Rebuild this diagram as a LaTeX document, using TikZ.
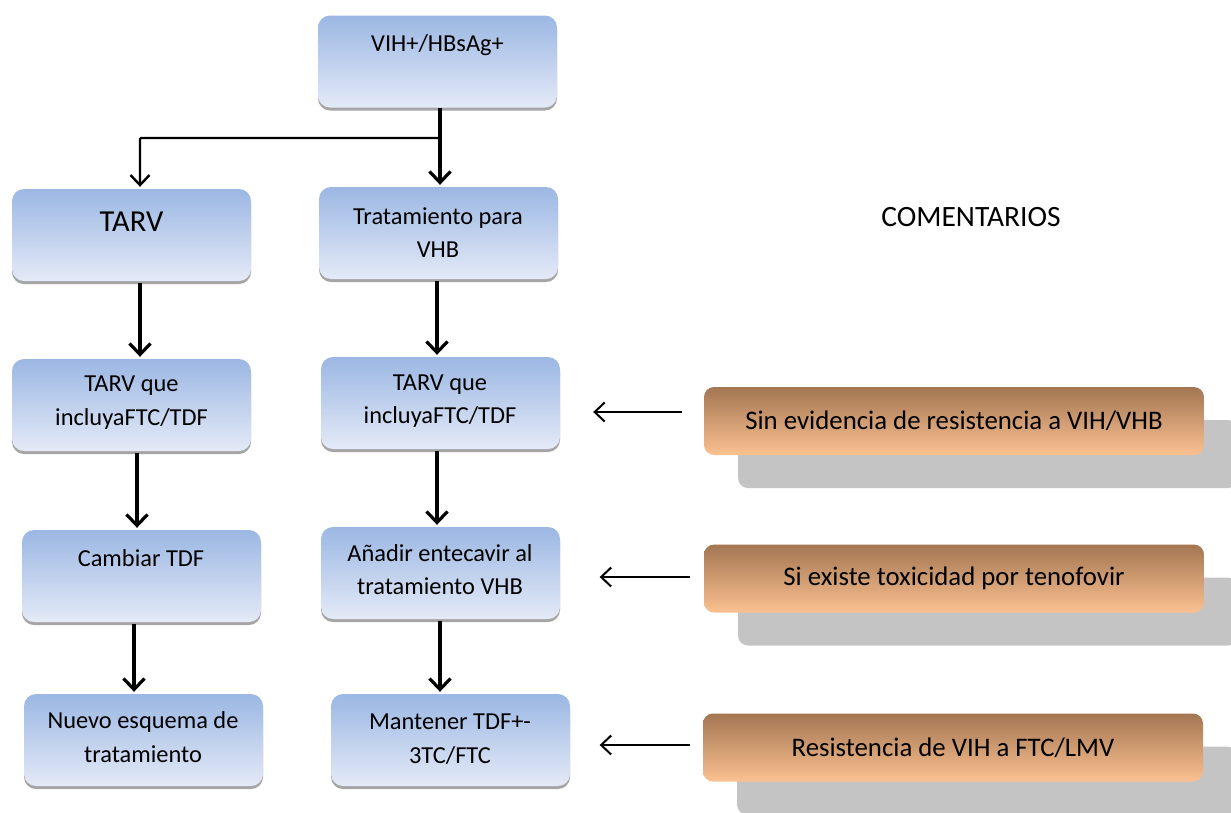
\documentclass[tikz,border=0pt]{standalone}
\usepackage{fontspec}
\setmainfont{Carlito}
\usetikzlibrary{arrows.meta,shadows,patterns}
\definecolor{blueTop}{RGB}{155,183,227}
\definecolor{blueBot}{RGB}{228,234,247}
\definecolor{orTop}{RGB}{163,118,82}
\definecolor{orBot}{RGB}{251,193,145}
\definecolor{shGray}{RGB}{165,165,165}
\definecolor{shLight}{RGB}{196,196,196}
\begin{document}
\begin{tikzpicture}[x=1pt,y=-1pt,
  bluebox/.style={rounded corners=12pt, top color=blueTop, bottom color=blueBot,
    minimum width=239pt, minimum height=92pt, inner sep=0pt, draw=none,
    drop shadow={shadow xshift=0pt, shadow yshift=-3pt, fill=shGray, opacity=1}},
  orbox/.style={rounded corners=10pt, top color=orTop, bottom color=orBot,
    minimum width=500pt, minimum height=68pt, inner sep=0pt, draw=none,
    font=\fontsize{26.8}{30}\selectfont,
    drop shadow={shadow xshift=34pt, shadow yshift=-33pt, fill=shLight, opacity=1}},
  txt/.style={align=center, inner sep=0pt, font=\fontsize{24.4}{33.5}\selectfont},
  bigtxt/.style={align=center, inner sep=0pt, font=\fontsize{30.5}{34}\selectfont},
  varrow/.style={line width=3.2pt, -{Straight Barb[length=11pt,width=21pt,line width=3.2pt]}},
  brarrow/.style={line width=2.4pt, -{Straight Barb[length=10pt,width=19pt,line width=2.4pt]}},
  harrow/.style={line width=2pt, -{Straight Barb[length=10pt,width=19pt,line width=2pt]}}
]
\useasboundingbox (0,0) rectangle (1231,812);

% blue boxes
\node[bluebox] (b1) at (437.5,61.5) {};
\node[bluebox] (b2) at (131.5,235) {};
\node[bluebox] (b3) at (438.5,233) {};
\node[bluebox] (b4) at (131.5,405) {};
\node[bluebox] (b5) at (440.5,403) {};
\node[bluebox] (b6) at (141.5,576) {};
\node[bluebox] (b7) at (440.5,573) {};
\node[bluebox] (b8) at (143.5,740) {};
\node[bluebox] (b9) at (450.5,740) {};

% texts
\node[txt] (t1) at (437.5,45) {VIH+/HBsAg+};
\node[bigtxt] (t2) at (131.5,222) {TARV};
\node[txt] (t3) at (438,232.5) {Tratamiento para\\VHB};
\node[txt] (t4) at (131.5,402.5) {TARV que\\incluyaFTC/TDF};
\node[txt] (t5) at (440,401) {TARV que\\incluyaFTC/TDF};
\node[txt] (t6) at (141,558) {Cambiar TDF};
\node[txt] (t7) at (440,569.5) {Añadir entecavir al\\tratamiento VHB};
\node[txt] (t8) at (143,737) {Nuevo esquema de\\tratamiento};
\node[txt] (t9) at (450,739) {Mantener TDF+-\\3TC/FTC};

% comments
\node[font=\fontsize{29.5}{33}\selectfont, inner sep=0pt] (com) at (971,217) {COMENTARIOS};
\node[orbox] (o1) at (954,421) {Sin evidencia de resistencia a VIH/VHB};
\node[orbox] (o2) at (954,578.5) {Si existe toxicidad por tenofovir};
\node[orbox] (o3) at (953,747.5) {Resistencia de VIH a FTC/LMV};

% top branching
\coordinate (br) at (440,138);
\draw[line width=3.2pt] ([xshift=2.5pt]b1.south) -- (br);
\draw[varrow] (br) -- ([xshift=1.5pt,yshift=2pt]b3.north);
\draw[brarrow, rounded corners=1pt] (br) -| ([xshift=8.5pt,yshift=2pt]b2.north);

% vertical arrows
\draw[varrow] ([xshift=8.5pt,yshift=-2pt]b2.south) -- ([xshift=8.5pt,yshift=2pt]b4.north);
\draw[varrow] ([xshift=-1.5pt,yshift=-2pt]b3.south) -- ([xshift=-3.5pt,yshift=2pt]b5.north);
\draw[varrow] ([xshift=5.5pt,yshift=-2pt]b4.south) -- ([xshift=-4.5pt,yshift=2pt]b6.north);
\draw[varrow] ([xshift=-3.5pt,yshift=-2pt]b5.south) -- ([xshift=-3.5pt,yshift=2pt]b7.north);
\draw[varrow] ([xshift=-7.5pt,yshift=-2pt]b6.south) -- ([xshift=-9.5pt,yshift=2pt]b8.north);
\draw[varrow] ([xshift=-0.5pt,yshift=-2pt]b7.south) -- ([xshift=-10.5pt,yshift=2pt]b9.north);

% horizontal arrows
\draw[harrow] ([xshift=-22pt,yshift=9pt]o1.west) -- ([xshift=33pt,yshift=-9pt]b5.east);
\draw[harrow] ([xshift=-14pt,yshift=1.5pt]o2.west) -- ([xshift=39.5pt,yshift=-4pt]b7.east);
\draw[harrow] ([xshift=-13pt,yshift=2.5pt]o3.west) -- ([xshift=29.5pt,yshift=-5pt]b9.east);
\end{tikzpicture}
\end{document}
